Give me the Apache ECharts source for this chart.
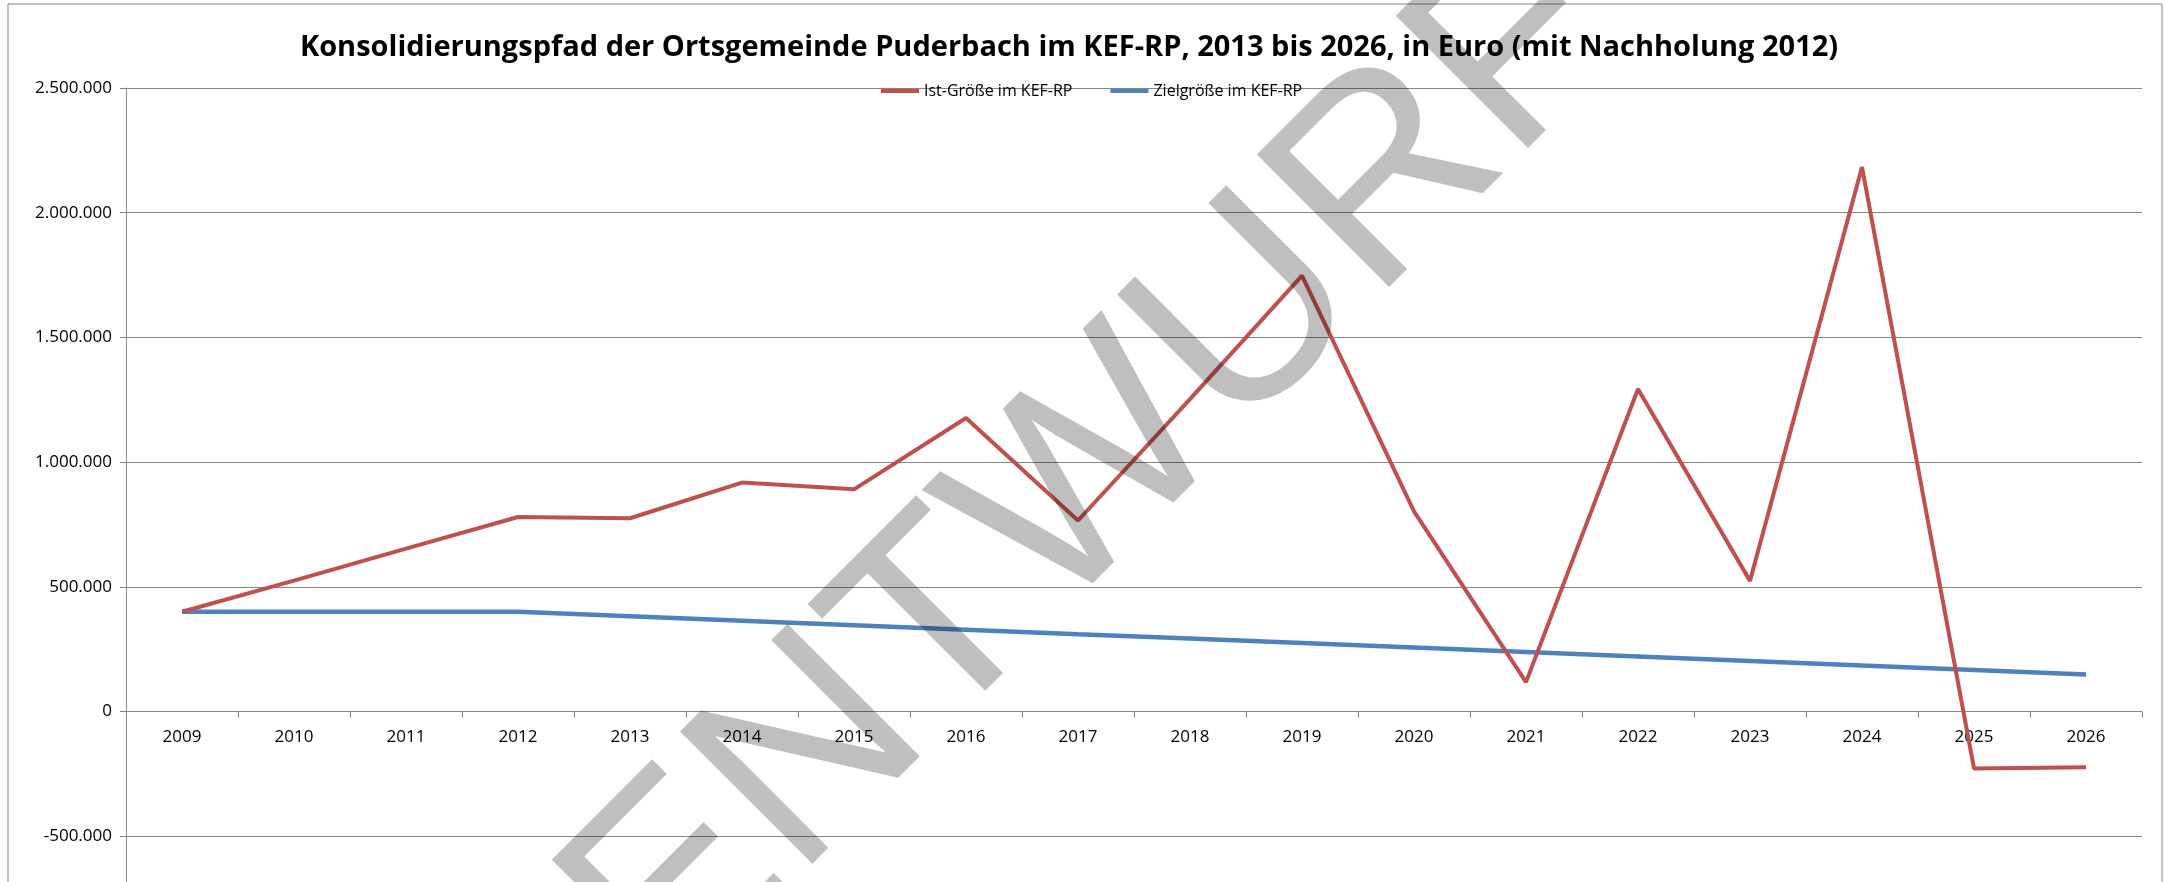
<!DOCTYPE html>
<html style="height: 100%">
<head>
    <meta charset="utf-8">
    <script src="https://cdn.jsdelivr.net/npm/echarts@6/dist/echarts.min.js"></script>
</head>
<body style="height: 100%; margin: 0">
    <div id="main" style="width: 2165px; height: 882px"></div>
    <script type="text/javascript">
        // Jahre (Kategorien)
        var years = ['2009', '2010', '2011', '2012', '2013', '2014', '2015', '2016', '2017',
            '2018', '2019', '2020', '2021', '2022', '2023', '2024', '2025', '2026'];
        // Ist-Größe im KEF-RP
        var istWerte = [400000, 525000, 653000, 780000, 775000, 918000, 891000, 1177000, 766000,
            1253000, 1748000, 803000, 118000, 1293000, 524000, 2183000, -228000, -223000];
        // Zielgröße im KEF-RP
        var zielWerte = [400000, 400000, 400000, 400000, 382000, 364000, 346000, 328000, 310000,
            293000, 275000, 257000, 239000, 221000, 203000, 185000, 167000, 149000];
        var legendNamen = ['Ist-Größe im KEF-RP', 'Zielgröße im KEF-RP'];
        var titel = 'Konsolidierungspfad der Ortsgemeinde Puderbach im KEF-RP, 2013 bis 2026, in Euro (mit Nachholung 2012)';

        var myChart = echarts.init(document.getElementById('main'));

        // Tausenderpunkte wie im Original
        function fmt(v) {
            var s = String(Math.abs(v)).replace(/\B(?=(\d{3})+(?!\d))/g, '.');
            return (v < 0 ? '-' : '') + s;
        }

        var grau = '#868686';
        var schrift = '"Open Sans", sans-serif';

        // Plotbereich reicht bis -1.000.000 (unterhalb des Bildrands)
        var gridTop = 88, gridHoehe = 873, yMin = -1000000, yMax = 2500000;
        var nullLinie = gridTop + gridHoehe * yMax / (yMax - yMin);

        var option = {
            backgroundColor: '#fff',
            animation: false,
            title: {
                text: titel,
                left: 1064,
                top: 28,
                textAlign: 'center',
                textStyle: {
                    fontFamily: schrift,
                    fontWeight: 'bold',
                    fontSize: 29,
                    color: '#000'
                }
            },
            legend: {
                data: legendNamen,
                left: 876,
                top: 78,
                icon: 'rect',
                itemWidth: 38,
                itemHeight: 4,
                itemGap: 38,
                textStyle: {
                    fontFamily: schrift,
                    fontSize: 16,
                    color: '#000'
                }
            },
            grid: {
                left: 126,
                top: gridTop,
                width: 2016,
                height: gridHoehe,
                containLabel: false,
                outerBoundsMode: 'none'
            },
            xAxis: {
                type: 'category',
                data: years,
                boundaryGap: true,
                position: 'bottom',
                offset: -(gridTop + gridHoehe - nullLinie),
                axisLine: { show: true, onZero: false, lineStyle: { color: grau, width: 1 } },
                axisTick: { show: true, length: 6, inside: false, lineStyle: { color: grau } },
                axisLabel: {
                    margin: 17,
                    fontFamily: schrift,
                    fontSize: 17,
                    color: '#000'
                },
                splitLine: { show: false }
            },
            yAxis: {
                type: 'value',
                min: yMin,
                max: yMax,
                interval: 500000,
                axisLine: { show: true, lineStyle: { color: grau, width: 1 } },
                axisTick: { show: true, length: 6, lineStyle: { color: grau } },
                axisLabel: {
                    margin: 14,
                    fontFamily: schrift,
                    fontSize: 17,
                    color: '#000',
                    formatter: fmt
                },
                splitLine: { show: true, lineStyle: { color: grau, width: 1 } }
            },
            series: [{
                name: legendNamen[0],
                type: 'line',
                data: istWerte,
                showSymbol: false,
                symbol: 'none',
                color: '#C0504D',
                lineStyle: { color: '#C0504D', width: 4 },
                z: 3
            }, {
                name: legendNamen[1],
                type: 'line',
                data: zielWerte,
                showSymbol: false,
                symbol: 'none',
                color: '#4F81BD',
                lineStyle: { color: '#4F81BD', width: 4.5 },
                z: 2
            }],
            graphic: [{
                // Rahmen des Diagramms
                type: 'rect',
                shape: { x: 8, y: 4, width: 2154, height: 920 },
                style: { fill: 'none', stroke: grau, lineWidth: 1 },
                silent: true,
                z: 0
            }, {
                // Wasserzeichen, halbtransparent über den Linien
                type: 'text',
                x: 1096,
                y: 474,
                rotation: Math.PI / 4,
                silent: true,
                z: 5,
                style: {
                    text: 'ENTWURF',
                    font: 'normal 272px "Liberation Sans", Arial, sans-serif',
                    fill: 'rgba(0,0,0,0.25)',
                    align: 'center',
                    verticalAlign: 'middle'
                }
            }]
        };

        myChart.setOption(option);
    </script>
</body>
</html>
